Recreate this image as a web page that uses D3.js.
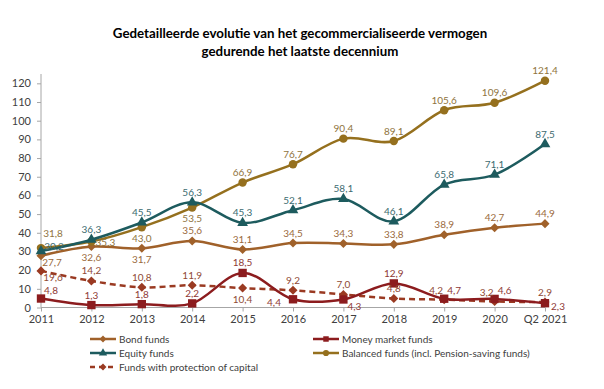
<!DOCTYPE html>
<html>
<head>
<meta charset="utf-8">
<title>Gecommercialiseerde vermogen</title>
<script src="https://cdn.jsdelivr.net/npm/d3@7/dist/d3.min.js"></script>
<style>
  body { margin: 0; background: #fff; }
  svg text { font-family: Lato, "Open Sans", sans-serif; }
  .title { font-size: 13.3px; font-weight: bold; fill: #000; }
  .tick text { font-size: 11px; fill: #404040; }
  .lbl { font-size: 10px; }
  .legend text { font-size: 10px; fill: #404040; }
</style>
</head>
<body>
<svg id="chart" width="604" height="389"></svg>
<script>
"use strict"

// data
var categories = ["2011","2012","2013","2014","2015","2016","2017","2018","2019","2020","Q2 2021"];
var bondFunds       = [27.7, 32.6, 31.7, 35.6, 31.1, 34.5, 34.3, 33.8, 38.9, 42.7, 44.9];
var moneyMarket     = [4.8, 1.3, 1.8, 2.2, 18.5, 4.4, 4.3, 12.9, 4.7, 4.6, 2.3];
var equityFunds     = [30.2, 36.3, 45.5, 56.3, 45.3, 52.1, 58.1, 46.1, 65.8, 71.1, 87.5];
var balancedFunds   = [31.8, 35.3, 43.0, 53.5, 66.9, 76.7, 90.4, 89.1, 105.6, 109.6, 121.4];
var protectionFunds = [19.6, 14.2, 10.8, 11.9, 10.4, 9.2, 7.0, 4.8, 4.2, 3.2, 2.9];
var yTicks = [0, 10, 20, 30, 40, 50, 60, 70, 80, 90, 100, 110, 120];

// where each value label sits next to its point
var bondLbl       = ["br","b","b","a","a","a","a","a","a","a","a"];
var moneyLbl      = ["ar","a","a","a","a","bl","br","a","ar","ar","br3"];
var equityLbl     = ["ar2","a","a","a","a","a","a","a","a","a","a"];
var balancedLbl   = ["ar3","r","b","b","a","a","a","a","a","a","a"];
var protectionLbl = ["br2","a","a","a","b","a","a","a","al","al","a"];

var offsets = {
  a: [0, -10], b: [0, 11], r: [14, 1], ar: [10, -8], ar2: [13, -5], ar3: [12, -15],
  br: [11, 7], br2: [12, 7], br3: [13, 3], bl: [-19, 3], al: [-8, -9]
};

var series = [
  {name: "Bond funds", values: bondFunds, lbl: bondLbl, color: "#a0612a", text: "#9a6a3c", marker: "diamond", dash: null},
  {name: "Money market funds", values: moneyMarket, lbl: moneyLbl, color: "#8c1c1e", text: "#8f3a35", marker: "square", dash: null},
  {name: "Equity funds", values: equityFunds, lbl: equityLbl, color: "#1d5b5e", text: "#3d6b70", marker: "triangle", dash: null},
  {name: "Balanced funds (incl. Pension-saving funds)", values: balancedFunds, lbl: balancedLbl, color: "#95701e", text: "#8f7440", marker: "circle", dash: null},
  {name: "Funds with protection of capital", values: protectionFunds, lbl: protectionLbl, color: "#9a3a22", text: "#8f4a35", marker: "diamond", dash: "6,4"}
];

var svg = d3.select("#chart");

// titel
svg.append("text").attr("class", "title").attr("x", 300).attr("y", 38)
   .attr("text-anchor", "middle").text("Gedetailleerde evolutie van het gecommercialiseerde vermogen");
svg.append("text").attr("class", "title").attr("x", 300).attr("y", 56)
   .attr("text-anchor", "middle").text("gedurende het laatste decennium");

var x = d3.scalePoint().domain(categories).range([41, 545]);
var y = d3.scaleLinear().domain([0, 125]).range([307.5, 74]);

var yAxis = svg.append("g")
   .attr("transform", "translate(41,0)")
   .call(d3.axisLeft(y).tickValues(yTicks).tickSize(4).tickPadding(6));
var xAxis = svg.append("g")
   .attr("transform", "translate(0,307.5)")
   .call(d3.axisBottom(x).tickSize(4).tickPadding(4));
svg.selectAll(".domain, .tick line").attr("stroke", "#a6a6a6");
xAxis.selectAll(".domain").attr("d", "M41,0H545");
yAxis.selectAll(".domain").attr("d", "M0,307.5V74");

var line = d3.line()
   .x(function(d, i) { return x(categories[i]); })
   .y(function(d) { return y(d); })
   .curve(d3.curveCardinal.tension(0));

function symbolFor(m) {
  if (m === "diamond") return d3.symbol().type(d3.symbolDiamond2 || d3.symbolDiamond).size(52);
  if (m === "square") return d3.symbol().type(d3.symbolSquare).size(70);
  if (m === "triangle") return d3.symbol().type(d3.symbolTriangle).size(50);
  return d3.symbol().type(d3.symbolCircle).size(56);
}

// draw order: lowest first so the big lines sit on top
var order = [4, 1, 0, 3, 2];
order.forEach(function(k) {
  var s = series[k];
  var g = svg.append("g");
  g.append("path").attr("d", line(s.values))
   .attr("fill", "none").attr("stroke", s.color).attr("stroke-width", 2.5)
   .attr("stroke-dasharray", s.dash);
  g.selectAll("path.mk").data(s.values).enter().append("path")
   .attr("class", "mk")
   .attr("transform", function(d, i) { return "translate(" + x(categories[i]) + "," + y(d) + ")"; })
   .attr("d", symbolFor(s.marker)())
   .attr("fill", s.color);
});

series.forEach(function(s) {
  svg.append("g").selectAll("text").data(s.values).enter().append("text")
   .attr("class", "lbl")
   .attr("x", function(d, i) { return x(categories[i]) + offsets[s.lbl[i]][0]; })
   .attr("y", function(d, i) { return y(d) + offsets[s.lbl[i]][1]; })
   .attr("dy", "0.35em")
   .attr("text-anchor", "middle")
   .attr("fill", s.text)
   .text(function(d) { return d.toFixed(1).replace(".", ","); });
});

// legende
var legendPos = [[90, 339], [313, 339], [90, 353], [313, 353], [90, 367]];
var legend = svg.append("g").attr("class", "legend");
series.forEach(function(s, i) {
  var p = legendPos[i];
  var lg = legend.append("g").attr("transform", "translate(" + p[0] + "," + p[1] + ")");
  lg.append("line").attr("x1", 0).attr("x2", 26).attr("y1", 0).attr("y2", 0)
    .attr("stroke", s.color).attr("stroke-width", 2.5)
    .attr("stroke-dasharray", s.dash ? "5,4" : null);
  lg.append("path").attr("transform", "translate(13,0)")
    .attr("d", symbolFor(s.marker).size(30)()).attr("fill", s.color);
  lg.append("text").attr("x", 29).attr("y", 0).attr("dy", "0.35em").text(s.name);
});
</script>
</body>
</html>
